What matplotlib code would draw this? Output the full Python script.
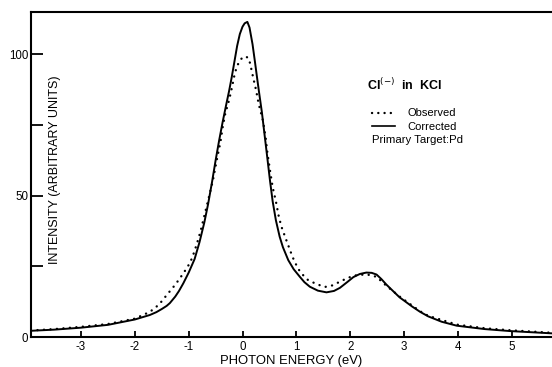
import matplotlib
matplotlib.use("Agg")
import matplotlib.pyplot as plt

plt.rcParams['font.family'] = ['Liberation Sans', 'DejaVu Sans']
plt.rcParams['axes.unicode_minus'] = False

# Corrected spectrum (solid line)
corr_E = [-3.93, -3.5, -3.0, -2.5, -2.0, -1.72, -1.6, -1.5, -1.41, -1.35, -1.25,
          -1.18, -1.1, -1.0, -0.89, -0.8, -0.71, -0.64, -0.565, -0.5, -0.435,
          -0.37, -0.3, -0.25, -0.2, -0.15, -0.1, -0.05, 0.0, 0.04, 0.09, 0.13,
          0.186, 0.23, 0.27, 0.31, 0.36, 0.41, 0.46, 0.51, 0.56, 0.62, 0.69,
          0.75, 0.85, 0.95, 1.065, 1.15, 1.25, 1.4, 1.56, 1.7, 1.81, 1.95, 2.06,
          2.18, 2.3, 2.4, 2.49, 2.58, 2.67, 2.8, 2.92, 3.0, 3.15, 3.3, 3.45,
          3.7, 3.98, 4.5, 4.97, 5.74]
corr_I = [2.2, 2.6, 3.3, 4.3, 6.2, 7.8, 8.8, 9.9, 11.0, 12.0, 14.3,
          16.3, 19.0, 22.8, 27.6, 33.5, 40.5, 47.0, 55.0, 62.5, 69.5,
          76.0, 82.5, 87.0, 92.0, 97.5, 103.0, 107.2, 109.8, 111.0, 111.5, 109.5,
          103.6, 97.5, 91.8, 86.2, 79.5, 71.5, 63.5, 55.4, 48.0, 41.3, 35.5,
          31.8, 27.2, 24.0, 21.3, 19.4, 17.8, 16.4, 15.8, 16.3, 17.4, 19.5, 21.2,
          22.3, 22.8, 22.7, 22.1, 20.5, 18.6, 16.2, 14.0, 12.9, 10.8, 8.9, 7.3,
          5.4, 4.0, 2.8, 2.1, 1.3]

# Observed spectrum (dotted)
obs_E = [-3.93, -3.5, -3.0, -2.5, -2.0, -1.72, -1.55, -1.41, -1.25, -1.1, -1.0,
         -0.94, -0.89, -0.84, -0.78, -0.73, -0.65, -0.55, -0.48, -0.41, -0.37,
         -0.32, -0.25, -0.2, -0.155, -0.11, -0.05, 0.0, 0.056, 0.117, 0.15, 0.2,
         0.25, 0.3, 0.38, 0.43, 0.46, 0.51, 0.56, 0.62, 0.67, 0.72, 0.79, 0.86,
         0.93, 1.03, 1.13, 1.22, 1.38, 1.53, 1.68, 1.84, 2.06, 2.3, 2.49, 2.68,
         2.92, 3.3, 3.45, 3.98, 4.5, 4.97, 5.74]
obs_I = [2.3, 2.8, 3.6, 4.6, 6.5, 8.9, 11.5, 14.8, 18.5, 22.5, 25.5,
         27.8, 30.5, 33.5, 37.4, 41.3, 47.5, 55.4, 62.5, 69.0, 74.1,
         79.1, 83.8, 88.0, 92.2, 95.5, 97.8, 98.9, 99.3, 98.6, 96.0, 91.6,
         87.5, 82.5, 76.5, 70.5, 65.5, 59.0, 53.0, 48.0, 43.0, 39.2, 35.5, 31.9,
         28.3, 24.2, 21.8, 20.1, 18.7, 17.7, 18.3, 19.9, 21.7, 22.2, 21.3, 18.0,
         14.3, 9.1, 7.5, 4.4, 3.1, 2.4, 1.5]

xticks = [-3, -2, -1, 0, 1, 2, 3, 4, 5]
yticks = [0, 25, 50, 75, 100]
ytick_labels = ['0', '', '50', '', '100']

fig = plt.figure(figsize=(5.52, 3.67), dpi=100)
W, H = 552, 367
left, right, top, bottom = 31, 552, 12, 337
ax = fig.add_axes([left / W, 1 - bottom / H, (right - left) / W, (bottom - top) / H])

dot_style = (0, (0.05, 2.7))
ax.plot(corr_E, corr_I, color='black', lw=1.4, solid_joinstyle='round')
ax.plot(obs_E, obs_I, color='black', lw=1.7, linestyle=dot_style,
        dash_capstyle='round')

ax.set_xlim(-3.93, 5.75)
ax.set_ylim(0, 115)

ax.spines['right'].set_visible(False)
for s in ['left', 'top', 'bottom']:
    ax.spines[s].set_linewidth(1.5)

ax.set_xticks(xticks)
ax.set_xticklabels([str(t) for t in xticks])
ax.set_yticks(yticks)
ax.set_yticklabels(ytick_labels)
ax.tick_params(axis='y', direction='in', length=8.5, width=1.3, pad=2, labelsize=8.3)
ax.tick_params(axis='x', direction='in', length=4.5, width=1.3, pad=3, labelsize=8.3)

ax.set_xlabel('PHOTON ENERGY (eV)', fontsize=9.4, labelpad=1)
ax.text(0.046, 0.514, 'INTENSITY (ARBITRARY UNITS)', transform=ax.transAxes,
        rotation=90, ha='center', va='center', fontsize=9.0)

def fx(px):
    return (px - left) / (right - left)

def fy(py):
    return (bottom - py) / (bottom - top)

ax.text(fx(367), fy(85), r'Cl$^{(-)}$  in  KCl', transform=ax.transAxes,
        ha='left', va='center', fontsize=9, fontweight='bold')
ax.plot([fx(372), fx(392)], [fy(112.5), fy(112.5)], transform=ax.transAxes,
        color='black', lw=1.7, linestyle=(0, (0.05, 2.6)), dash_capstyle='round')
ax.text(fx(407), fy(112.5), 'Observed', transform=ax.transAxes,
        ha='left', va='center', fontsize=8.0)
ax.plot([fx(372), fx(395)], [fy(126), fy(126)], transform=ax.transAxes,
        color='black', lw=1.2)
ax.text(fx(407), fy(127), 'Corrected', transform=ax.transAxes,
        ha='left', va='center', fontsize=8.0)
ax.text(fx(372), fy(140.5), 'Primary Target:Pd', transform=ax.transAxes,
        ha='left', va='center', fontsize=8.2)

fig.savefig('out.png', dpi=100)
